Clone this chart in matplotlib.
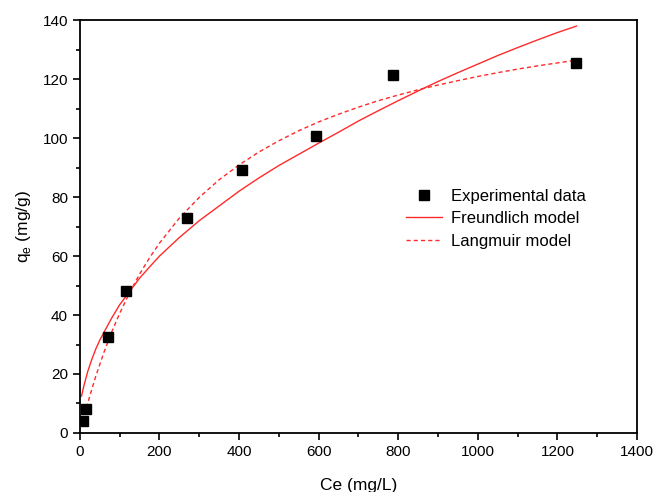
import matplotlib.pyplot as plt
from matplotlib.ticker import MultipleLocator

plt.rcParams['font.family'] = ['Liberation Sans', 'DejaVu Sans']
plt.rcParams['mathtext.fontset'] = 'custom'
plt.rcParams['mathtext.rm'] = 'Liberation Sans'

# experimental points
ce_exp = [7.5, 15, 70, 117, 269, 407, 593, 786, 1246]
qe_exp = [4.1, 8.1, 32.5, 48.1, 72.9, 89.2, 100.7, 121.4, 125.4]

# Freundlich fit curve
ce_fr = [4, 10, 20, 30, 40, 50, 60, 80, 100, 125, 150, 175, 200, 250, 300,
         350, 400, 450, 500, 550, 600, 650, 700, 750, 800, 850, 900, 950,
         1000, 1050, 1100, 1150, 1200, 1248]
qe_fr = [12.5, 16, 21, 25, 28.5, 31.5, 34, 39, 43.5, 48, 52.5, 56.3, 60,
         66.3, 72, 77, 82, 86.5, 90.7, 94.5, 98.3, 102, 105.8, 109.3, 112.7,
         116, 119.2, 122.2, 125.1, 128, 130.7, 133.3, 135.8, 138]

# Langmuir fit curve
ce_la = [7, 15, 25, 40, 60, 80, 100, 125, 150, 175, 200, 250, 300, 350,
         400, 450, 500, 550, 600, 650, 700, 750, 800, 850, 900, 950, 1000,
         1050, 1100, 1150, 1200, 1235]
qe_la = [3.8, 7.8, 12.6, 19.3, 27.2, 34.3, 40.6, 47.6, 53.9, 59.4, 64.4,
         72.9, 79.9, 85.9, 90.9, 95.3, 99.1, 102.5, 105.5, 108.1, 110.5,
         112.7, 114.6, 116.4, 118.0, 119.5, 120.9, 122.2, 123.4, 124.5,
         125.5, 126.2]

fig = plt.figure(figsize=(6.55, 4.92), dpi=100)
ax = fig.add_axes([0.122, 0.12, 0.8505, 0.839])

ax.plot(ce_exp, qe_exp, 's', color='black', markersize=7, label='Experimental data', zorder=3)
ax.plot(ce_fr, qe_fr, '-', color='#ff2a2a', lw=1.0, label='Freundlich model')
ax.plot(ce_la, qe_la, '--', color='#ff2a2a', lw=1.0, dashes=(3, 2.2), label='Langmuir model')

ax.set_xlim(0, 1400)
ax.set_ylim(0, 140)
ax.xaxis.set_major_locator(MultipleLocator(200))
ax.xaxis.set_minor_locator(MultipleLocator(100))
ax.yaxis.set_major_locator(MultipleLocator(20))
ax.yaxis.set_minor_locator(MultipleLocator(10))
ax.tick_params(which='major', direction='out', length=5, width=1.2, labelsize=11)
ax.tick_params(which='minor', direction='out', length=3, width=1.2)
for s in ax.spines.values():
    s.set_linewidth(1.3)

ax.set_xlabel('Ce (mg/L)', fontsize=12.5, labelpad=14)
ax.set_ylabel(r'q$_\mathregular{e}$ (mg/g)', fontsize=12.5, labelpad=7)

ax.legend(loc='upper left', bbox_to_anchor=(0.558, 0.628), frameon=False,
          fontsize=12, handlelength=2.2, labelspacing=0.45, handletextpad=0.5)

fig.savefig('out.png', dpi=100)
